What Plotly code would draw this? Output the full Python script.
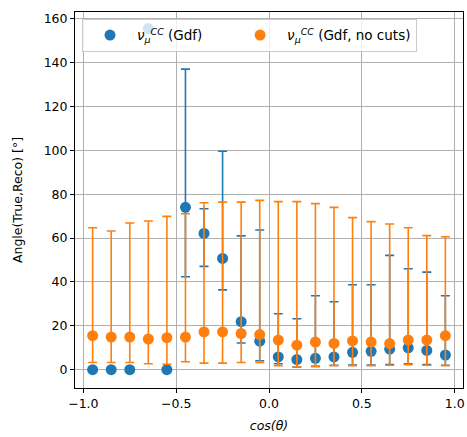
import plotly.graph_objects as go

# bin centres in cos(theta)
cos_theta = [-0.95, -0.85, -0.75, -0.65, -0.55, -0.45, -0.35, -0.25, -0.15, -0.05,
             0.05, 0.15, 0.25, 0.35, 0.45, 0.55, 0.65, 0.75, 0.85, 0.95]

# nu_mu CC (Gdf): median angle with lower / upper band edges
gdf_median = [0.0, 0.0, 0.0, 155.5, 0.0, 74.0, 62.1, 50.7, 21.9, 13.0,
              5.8, 4.6, 5.2, 5.8, 7.9, 8.4, 9.4, 10.0, 8.8, 6.7]
gdf_low = [0.0, 0.0, 0.0, 155.5, 0.0, 42.4, 47.1, 36.4, 12.2, 4.1,
           2.7, 1.2, 1.5, 2.0, 2.1, 2.1, 2.3, 2.7, 2.3, 2.0]
gdf_high = [0.0, 0.0, 0.0, 155.5, 0.0, 137.0, 73.4, 99.6, 61.0, 63.7,
            25.5, 23.2, 33.7, 31.0, 38.7, 38.7, 52.1, 46.0, 44.5, 33.7]

# nu_mu CC (Gdf, no cuts)
nocut_median = [15.5, 14.9, 14.9, 14.0, 14.6, 14.9, 17.2, 17.2, 16.5, 16.0,
                13.5, 11.2, 12.6, 12.0, 13.1, 12.6, 11.9, 13.5, 13.5, 15.5]
nocut_low = [3.3, 3.3, 3.3, 2.7, 2.5, 3.6, 3.0, 3.0, 3.3, 3.3,
             1.8, 1.2, 1.5, 1.8, 1.8, 1.8, 2.0, 2.3, 2.0, 1.8]
nocut_high = [64.7, 63.2, 66.9, 67.8, 69.9, 71.1, 76.1, 76.4, 76.4, 77.2,
              76.6, 76.6, 75.7, 74.0, 69.3, 67.5, 66.4, 64.7, 61.1, 60.6]

BLUE = "#1f77b4"
ORANGE = "#ff7f0e"
FONT = "DejaVu Sans"
NU_MU_CC = "<i>ν</i><sub><i>μ</i></sub><sup><i>CC</i></sup>"
PAD = "\u00a0" * 6  # spacing between the two legend columns


def band(med, lo, hi):
    plus = [h - m for m, h in zip(med, hi)]
    minus = [m - l for m, l in zip(med, lo)]
    return plus, minus


fig = go.Figure()

b_plus, b_minus = band(gdf_median, gdf_low, gdf_high)
fig.add_trace(go.Scatter(
    x=cos_theta, y=gdf_median, mode="markers",
    name=f"{NU_MU_CC} (Gdf){PAD}",
    marker=dict(color=BLUE, size=11),
    error_y=dict(type="data", symmetric=False, array=b_plus, arrayminus=b_minus,
                 color=BLUE, thickness=1.6, width=4.5),
))

o_plus, o_minus = band(nocut_median, nocut_low, nocut_high)
fig.add_trace(go.Scatter(
    x=cos_theta, y=nocut_median, mode="markers",
    name=f"{NU_MU_CC} (Gdf, no cuts)",
    marker=dict(color=ORANGE, size=11),
    error_y=dict(type="data", symmetric=False, array=o_plus, arrayminus=o_minus,
                 color=ORANGE, thickness=1.6, width=4.5),
))

axis_common = dict(
    showline=True, linecolor="black", linewidth=1, mirror=True,
    ticks="outside", ticklen=4, tickcolor="black",
    showgrid=True, gridcolor="#b0b0b0", gridwidth=0.8,
    zeroline=False,
    tickfont=dict(family=FONT, size=12.5, color="black"),
)

fig.update_xaxes(
    range=[-1.045, 1.045], tickvals=[-1.0, -0.5, 0.0, 0.5, 1.0],
    ticktext=["−1.0", "−0.5", "0.0", "0.5", "1.0"],
    title=dict(text="<i>cos(θ)</i>", font=dict(family=FONT, size=12.5, color="black"), standoff=11),
    **axis_common,
)
fig.update_yaxes(
    range=[-8.34, 163.05], tickvals=[0, 20, 40, 60, 80, 100, 120, 140, 160],
    title=dict(text="Angle(True,Reco) [°]", font=dict(family=FONT, size=12.5, color="black"), standoff=18),
    **axis_common,
)

fig.update_layout(
    width=467, height=437,
    margin=dict(l=75, r=2, t=12, b=49),
    plot_bgcolor="white", paper_bgcolor="white",
    showlegend=True,
    legend=dict(
        orientation="h", x=0.018, y=0.982, xanchor="left", yanchor="top",
        bgcolor="rgba(255,255,255,0.8)", bordercolor="#cccccc", borderwidth=1,
        font=dict(family=FONT, size=13.5, color="black"),
        itemwidth=44,
    ),
)

fig.write_html("out.html")
